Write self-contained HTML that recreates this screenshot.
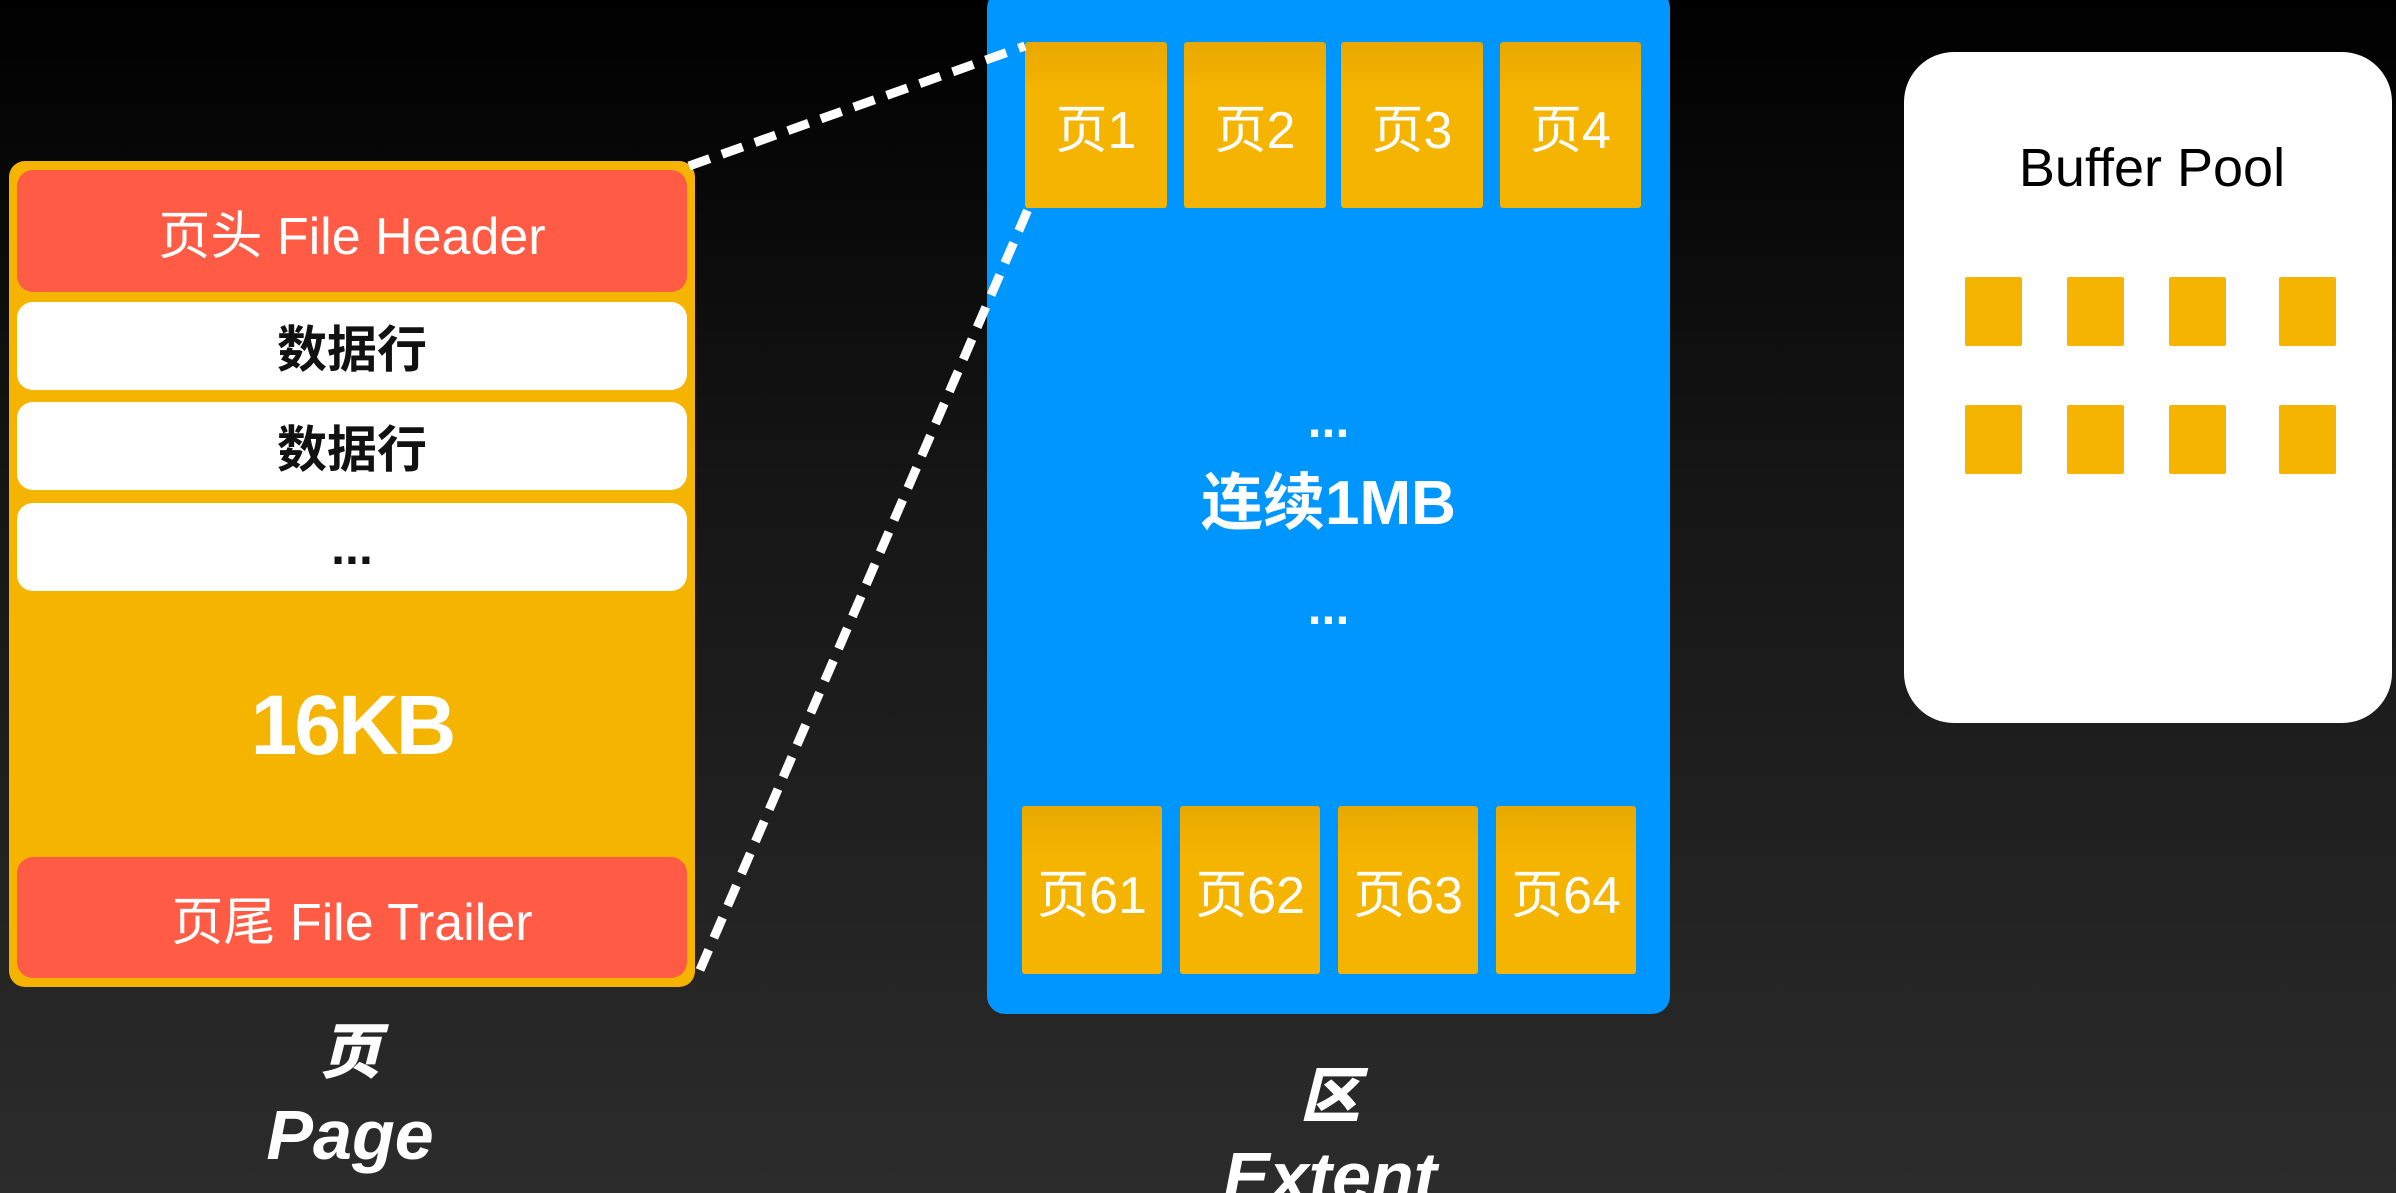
<!DOCTYPE html>
<html><head><meta charset="utf-8"><style>
*{margin:0;padding:0;box-sizing:border-box}
html,body{width:2396px;height:1193px;overflow:hidden;background:#000}
body{font-family:"Liberation Sans","Noto Sans CJK SC",sans-serif;position:relative}
.a{position:absolute}
.c{display:flex;align-items:center;justify-content:center}
.red{background:#FF5B45;border-radius:16px;color:#fff;font-size:52px}
.wh{background:#fff;border-radius:16px;color:#111;font-size:50px;font-weight:bold}
.t{background:linear-gradient(#E8A800,#F5B400 30%);color:#fff;font-size:52px;border-radius:3px}
.s{background:#F5B400;width:57px;height:69px;border-radius:2px}
.lab{color:#fff;font-weight:900;font-style:italic;text-align:center}
</style></head><body>
<div class="a" style="left:0;top:0;width:2396px;height:1193px;background:linear-gradient(#000 0%,#151515 40%,#2c2c2c 100%)"></div>
<div class="a" style="left:9px;top:161px;width:686px;height:826px;background:#F5B400;border-radius:16px"></div>
<div class="a c red" style="left:17px;top:170px;width:670px;height:122px">页头 File Header</div>
<div class="a c wh" style="left:17px;top:302px;width:670px;height:88px">数据行</div>
<div class="a c wh" style="left:17px;top:402px;width:670px;height:88px">数据行</div>
<div class="a c wh" style="left:17px;top:503px;width:670px;height:88px">...</div>
<div class="a c" style="left:9px;top:680px;width:686px;height:90px;color:#fff;font-size:84px;font-weight:bold;letter-spacing:-3px">16KB</div>
<div class="a c red" style="left:17px;top:857px;width:670px;height:121px">页尾 File Trailer</div>
<div class="a lab" style="left:250px;top:1018px;width:200px;font-size:60px;line-height:70px">页</div>
<div class="a lab" style="left:200px;top:1100px;width:300px;font-size:70px;line-height:70px">Page</div>

<div class="a" style="left:987px;top:-10px;width:683px;height:1024px;background:#0096FF;border-radius:18px"></div>
<div class="a c t" style="left:1025px;top:42px;width:142px;height:166px">页1</div>
<div class="a c t" style="left:1184px;top:42px;width:142px;height:166px">页2</div>
<div class="a c t" style="left:1341px;top:42px;width:142px;height:166px">页3</div>
<div class="a c t" style="left:1500px;top:42px;width:141px;height:166px">页4</div>
<div class="a c t" style="left:1022px;top:806px;width:140px;height:168px">页61</div>
<div class="a c t" style="left:1180px;top:806px;width:140px;height:168px">页62</div>
<div class="a c t" style="left:1338px;top:806px;width:140px;height:168px">页63</div>
<div class="a c t" style="left:1496px;top:806px;width:140px;height:168px">页64</div>
<div class="a c" style="left:987px;top:395px;width:683px;height:50px;color:#fff;font-size:50px;font-weight:bold">...</div>
<div class="a c" style="left:987px;top:462px;width:683px;height:70px;color:#fff;font-size:62px;font-weight:bold">连续1MB</div>
<div class="a c" style="left:987px;top:582px;width:683px;height:50px;color:#fff;font-size:50px;font-weight:bold">...</div>
<div class="a lab" style="left:1230px;top:1062px;width:200px;font-size:60px;line-height:70px">区</div>
<div class="a lab" style="left:1130px;top:1142px;width:400px;font-size:70px;line-height:70px">Extent</div>

<div class="a" style="left:1904px;top:52px;width:488px;height:671px;background:#fff;border-radius:50px"></div>
<div class="a c" style="left:1904px;top:135px;width:496px;height:66px;color:#000;font-size:54px">Buffer Pool</div>
<div class="a s" style="left:1965px;top:277px"></div>
<div class="a s" style="left:2067px;top:277px"></div>
<div class="a s" style="left:2169px;top:277px"></div>
<div class="a s" style="left:2279px;top:277px"></div>
<div class="a s" style="left:1965px;top:405px"></div>
<div class="a s" style="left:2067px;top:405px"></div>
<div class="a s" style="left:2169px;top:405px"></div>
<div class="a s" style="left:2279px;top:405px"></div>
<svg class="a" style="left:0;top:0" width="2396" height="1193">
<line x1="689" y1="166" x2="1025" y2="46" stroke="#fff" stroke-width="9" stroke-dasharray="22 13"/>
<line x1="700" y1="970" x2="1029" y2="207" stroke="#fff" stroke-width="9" stroke-dasharray="22 13"/>
</svg>
</body></html>
